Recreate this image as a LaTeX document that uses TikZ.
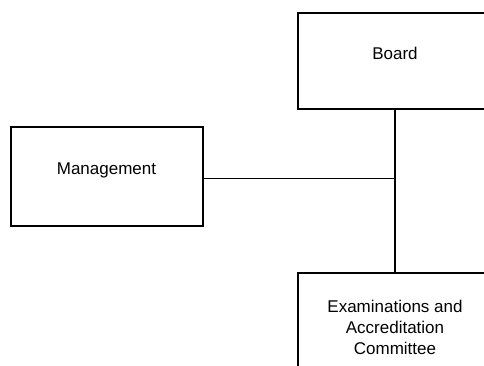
\documentclass[tikz,border=0pt]{standalone}
\usepackage{fontspec}
\setmainfont{Liberation Sans}
\begin{document}
\begin{tikzpicture}[x=1pt,y=-1pt,
  unitbox/.style={draw=black,line width=2pt,rectangle,inner sep=0pt},
  link/.style={draw=black,line width=1.5pt},
  lbl/.style={font=\fontsize{17}{21}\selectfont,align=center}]
  \useasboundingbox (0,0) rectangle (484,365);
  % organisational units
  \node[unitbox,minimum width=194pt,minimum height=96pt] (board) at (395,60.5) {};
  \node[lbl] (boardtxt) at (395,53.5) {Board};
  \node[unitbox,minimum width=192pt,minimum height=99pt] (mgmt) at (106.5,176.5) {};
  \node[lbl] (mgmttxt) at (106.5,170) {Management};
  \node[unitbox,minimum width=194pt,minimum height=120pt] (exam) at (395,333) {};
  \node[lbl] (examtxt) at (395,327) {Examinations and\\Accreditation\\Committee};
  % reporting lines
  \coordinate (junction) at (board.south |- 0,178.7);
  \draw[link] (board.south) -- (exam.north);
  \draw[link] (mgmt.east |- junction) -- (junction);
\end{tikzpicture}
\end{document}
